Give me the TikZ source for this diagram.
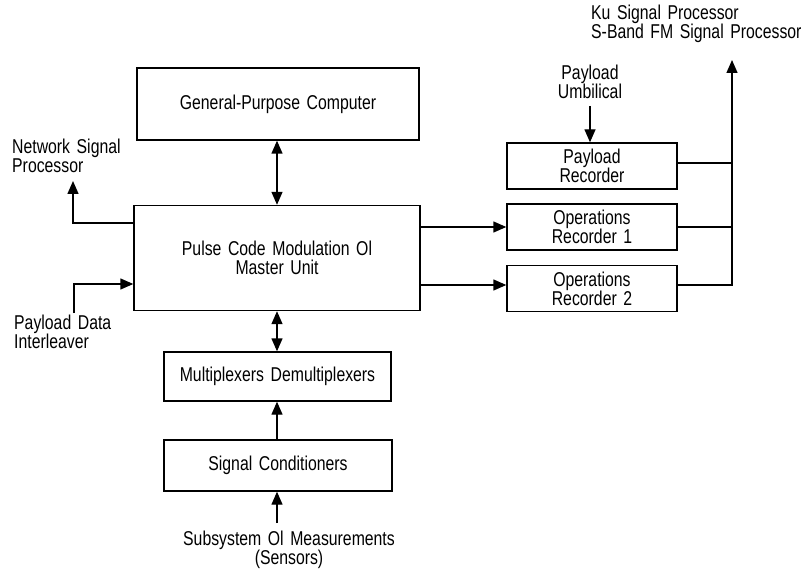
\documentclass[tikz,border=0pt]{standalone}
\usepackage{fontspec}
\setmainfont[FakeStretch=0.79,WordSpace=1.5]{Liberation Sans}
\usetikzlibrary{arrows.meta}
\begin{document}
\begin{tikzpicture}[x=1pt,y=-1pt,
  font=\fontsize{20}{19}\selectfont,
  blk/.style={draw,line width=1.4pt,inner sep=0pt,align=center},
  lbl/.style={inner sep=0pt,align=left},
  con/.style={line width=1.4pt},
  tip/.tip={Triangle[length=13pt,width=11pt]},
  arr/.style={con,-tip},
  darr/.style={con,tip-tip}]
\useasboundingbox (0,0) rectangle (803,572);
% boxes
\node[blk,minimum width=282pt,minimum height=72pt] (gpc) at (278,104) {General-Purpose Computer};
\node[blk,minimum width=286pt,minimum height=105pt] (pcm) at (277,258) {Pulse Code Modulation Ol\\Master Unit};
\node[blk,minimum width=227pt,minimum height=49pt] (mux) at (277.5,376.5) {Multiplexers Demultiplexers};
\node[blk,minimum width=228pt,minimum height=51pt] (sc) at (278,465.5) {Signal Conditioners};
\node[blk,minimum width=170pt,minimum height=46pt] (pr) at (592,166) {Payload\\Recorder};
\node[blk,minimum width=170pt,minimum height=46pt] (or1) at (592,227) {Operations\\Recorder 1};
\node[blk,minimum width=170pt,minimum height=46pt] (or2) at (592,288.5) {Operations\\Recorder 2};
% labels
\node[lbl,anchor=north west] (nsp) at (12,139) {Network Signal\\Processor};
\node[lbl,anchor=north west] (pdi) at (14,315) {Payload Data\\Interleaver};
\node[lbl,align=center,anchor=north] (sub) at (289,531) {Subsystem Ol Measurements\\(Sensors)};
\node[lbl,align=center,anchor=north] (pu) at (590,65) {Payload\\Umbilical};
\node[lbl,anchor=north west] (ku) at (591,5) {Ku Signal Processor\\S-Band FM Signal Processor};
% coordinates
\coordinate (nspEnd) at (73,181);
\coordinate (nspCorner) at (73,223);
\coordinate (pdiStart) at (74,313);
\coordinate (pdiCorner) at (74,284);
\coordinate (puStart) at (590,106);
\coordinate (subStart) at (277,523);
\coordinate (busTop) at (732,60);
\coordinate (bus2) at (732,285);
% connectors
\draw[darr] (gpc.south -| pcm.north) -- (pcm.north);
\draw[darr] (pcm.south) -- (mux.north -| pcm.south);
\draw[arr] (sc.north -| pcm.south) -- (mux.south -| pcm.south);
\draw[arr] (subStart) -- (subStart |- sc.south);
\draw[arr] (pcm.west |- nspCorner) -- (nspCorner) -- (nspEnd);
\draw[arr] (pdiStart) -- (pdiCorner) -- (pdiCorner -| pcm.west);
\draw[arr] (pcm.east |- or1.west) -- (or1.west);
\draw[arr] (pcm.east |- bus2) -- (bus2 -| or2.west);
\draw[arr] (puStart) -- (puStart |- pr.north);
\draw[con] (pr.east |- 0,163) -- (732,163);
\draw[con] (or1.east) -- (or1.east -| bus2);
\draw[arr] (or2.east |- bus2) -- (bus2) -- (busTop);
\end{tikzpicture}
\end{document}
